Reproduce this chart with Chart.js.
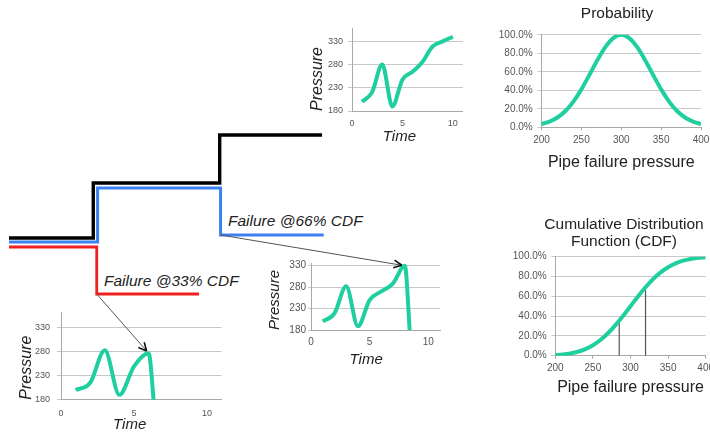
<!DOCTYPE html>
<html>
<head>
<meta charset="utf-8">
<script src="https://cdn.jsdelivr.net/npm/chart.js@4.4.0/dist/chart.umd.min.js"></script>
<style>
  html, body { margin: 0; padding: 0; background: #fff; }
  body { position: relative; width: 710px; height: 433px; overflow: hidden; font-family: "Liberation Sans", Arial, sans-serif; }
  canvas { position: absolute; }
  .note { position: absolute; font-style: italic; font-size: 15.5px; line-height: 16px; color: #222; white-space: nowrap; }
</style>
</head>
<body>
<canvas id="chart-top"></canvas>
<canvas id="chart-mid"></canvas>
<canvas id="chart-low"></canvas>
<canvas id="chart-pdf"></canvas>
<canvas id="chart-cdf"></canvas>
<div class="note" id="note-66" style="left:228px;top:213px"></div>
<div class="note" id="note-33" style="left:104px;top:273px"></div>
<canvas id="chart-steps"></canvas>
<script>
// pressure histories (time vs pressure)
const timeTicks     = [0, 5, 10];
const pressureTicks = [180, 230, 280, 330];

const topTime     = [1, 2, 3, 4, 5, 6, 7, 8, 9, 10];
const topPressure = [200, 221, 281, 190, 248, 265, 287, 320, 331, 341];

const midTime     = [1, 2, 3, 4, 5, 6, 7, 8, 8.45];
const midPressure = [200, 219, 282, 189, 250, 270, 289, 330, 165];

const lowTime     = [1, 2, 3, 4, 5, 6, 6.4];
const lowPressure = [200, 215, 282, 190, 249, 276, 160];

// failure pressure distribution
const pipePressure = [200, 210, 220, 230, 240, 250, 260, 270, 280, 290, 300,
                      310, 320, 330, 340, 350, 360, 370, 380, 390, 400];
const probability  = [3.6, 6.2, 10.6, 17.6, 27.8, 41, 56.6, 72.6, 86.7, 96.5, 100,
                      96.5, 86.7, 72.6, 56.6, 41, 27.8, 17.6, 10.6, 6.2, 3.6];
const cumulative   = [0.6, 1.2, 2.3, 4.0, 6.7, 10.6, 15.9, 22.7, 30.9, 40.1, 50,
                      59.9, 69.1, 77.3, 84.1, 89.4, 93.3, 96.0, 97.7, 98.8, 99.4];
const pipeTicks    = [200, 250, 300, 350, 400];
const percentTicks = [0, 20, 40, 60, 80, 100];

const failureCdf      = [33, 66];
const failurePressure = [285, 320];

// load steps (time, load level)
const blackTime = [0, 0.98, 0.98, 2.45, 2.45, 3.64];
const blackLoad = [13.2, 13.2, 18.7, 18.7, 23.5, 23.5];
const blueTime  = [0, 1.03, 1.03, 2.46, 2.46, 3.66];
const blueLoad  = [12.8, 12.8, 18.2, 18.2, 13.5, 13.5];
const redTime   = [0, 1.02, 1.02, 2.21];
const redLoad   = [12.3, 12.3, 7.6, 7.6];

const TEAL = '#1fcf9f';
const GRID = '#c8c8c8';
const AXIS = '#a8a8a8';
const TICK = '#555';
const INK  = '#222';
const FONT = '"Liberation Sans", Arial, sans-serif';

Chart.defaults.font.family = FONT;
Chart.defaults.animation = false;

const charts = {};

function place(id, left, top, width, height) {
  const c = document.getElementById(id);
  c.width = width; c.height = height;
  c.style.left = left + 'px'; c.style.top = top + 'px';
  return c;
}
function fixSize(size) {
  return s => { if (s.isHorizontal()) s.height = size; else s.width = size; };
}
function setTicks(values) {
  return s => { s.ticks = values.map(v => ({ value: v })); };
}
function points(xs, ys) {
  return xs.map((x, i) => ({ x, y: ys[i] }));
}

// "Time" caption sits under a given x value, not under the middle of the axis
const timeCaption = {
  id: 'timeCaption',
  afterDraw(chart, args, opts) {
    const ctx = chart.ctx;
    ctx.save();
    ctx.font = 'italic 15px ' + FONT;
    ctx.fillStyle = INK;
    ctx.textAlign = 'center';
    ctx.textBaseline = 'middle';
    ctx.fillText(opts.text, chart.scales.x.getPixelForValue(opts.at), chart.height - 9);
    ctx.restore();
  },
};

// move the title block so it is centred on a given x
const titleCentre = {
  id: 'titleCentre',
  afterLayout(chart, args, opts) {
    const t = chart.titleBlock;
    if (!t) return;
    const half = (t.right - t.left) / 2;
    t.left = opts.x - half;
    t.right = opts.x + half;
  },
};

function timeChart(id, box, times, pressures) {
  const canvas = place(id, box.left, box.top, box.width, box.height);
  charts[id] = new Chart(canvas, {
    type: 'line',
    data: { datasets: [{
      data: points(times, pressures), borderColor: TEAL, borderWidth: 4,
      pointRadius: 0, cubicInterpolationMode: 'monotone', fill: false,
    }] },
    options: {
      responsive: false,
      layout: { padding: { top: box.padTop, right: box.padRight, left: 0, bottom: 0 } },
      plugins: {
        legend: { display: false }, tooltip: { enabled: false },
        timeCaption: { text: 'Time', at: 4.7 },
      },
      scales: {
        x: {
          type: 'linear', min: 0, max: 11,
          afterBuildTicks: setTicks(timeTicks), afterFit: fixSize(box.xSize),
          grid: { display: false, drawTicks: false }, border: { color: AXIS },
          ticks: { color: TICK, font: { size: box.tickFont }, padding: box.xPad },
        },
        y: {
          min: 180, max: box.yMax,
          afterBuildTicks: setTicks(pressureTicks), afterFit: fixSize(box.ySize),
          grid: { color: GRID, tickLength: box.tickLen }, border: { color: AXIS },
          ticks: { color: TICK, font: { size: box.tickFont }, padding: box.yPad },
          title: { display: true, text: 'Pressure', align: 'start', color: INK,
                   font: { size: box.titleFont, style: 'italic' }, padding: { top: box.titlePad, bottom: 0 } },
        },
      },
    },
    plugins: [timeCaption],
  });
}

function pressureChart(id, box, title, datasets) {
  const canvas = place(id, box.left, box.top, box.width, box.height);
  charts[id] = new Chart(canvas, {
    type: 'line',
    data: { datasets },
    options: {
      responsive: false,
      layout: { padding: { top: 0, right: box.padRight, left: 0, bottom: 0 } },
      plugins: {
        legend: { display: false }, tooltip: { enabled: false },
        title: { display: true, text: title, color: INK, font: { size: 15.5, weight: 'normal', lineHeight: 1.08 },
                 padding: { top: box.titleTop, bottom: box.titleBottom } },
        titleCentre: { x: box.titleX },
      },
      scales: {
        x: {
          type: 'linear', min: 200, max: 400,
          afterBuildTicks: setTicks(pipeTicks), afterFit: fixSize(box.xSize),
          grid: { display: true, drawOnChartArea: false, drawTicks: true, tickLength: 3, color: AXIS },
          border: { color: AXIS },
          ticks: { color: TICK, font: { size: 10 }, padding: box.xPad },
          title: { display: true, text: 'Pipe failure pressure', color: INK, font: { size: 16 }, padding: { top: 0, bottom: 2.4 } },
        },
        y: {
          min: 0, max: 100,
          afterBuildTicks: setTicks(percentTicks), afterFit: fixSize(box.ySize),
          grid: { color: GRID, tickLength: 4 }, border: { color: AXIS },
          ticks: { color: TICK, font: { size: 10 }, padding: box.yPad, callback: v => v.toFixed(1) + '%' },
        },
      },
    },
    plugins: [titleCentre],
  });
}

timeChart('chart-top',
  { left: 296, top: 14, width: 169, height: 132, padTop: 14, padRight: 2, xSize: 35, ySize: 56,
    yMax: 360, tickFont: 9, tickLen: 4, xPad: 7, yPad: 5, titleFont: 16, titlePad: 12.4 },
  topTime, topPressure);

timeChart('chart-mid',
  { left: 262, top: 250, width: 180, height: 119, padTop: 13.6, padRight: 2, xSize: 39, ySize: 49,
    yMax: 335, tickFont: 10, tickLen: 3, xPad: 6, yPad: 2, titleFont: 15, titlePad: 4 },
  midTime, midPressure);

timeChart('chart-low',
  { left: 0, top: 300, width: 224, height: 134, padTop: 12.5, padRight: 2.4, xSize: 34.3, ySize: 61,
    yMax: 360, tickFont: 9, tickLen: 4, xPad: 8, yPad: 7, titleFont: 16, titlePad: 17 },
  lowTime, lowPressure);

pressureChart('chart-pdf',
  { left: 490, top: 0, width: 250, height: 175, padRight: 39, ySize: 51.5, xSize: 47.7,
    titleTop: 5.7, titleBottom: 12.4, titleX: 127, xPad: 3.7, yPad: 4.8 },
  'Probability',
  [{ data: points(pipePressure, probability), borderColor: TEAL, borderWidth: 4, pointRadius: 0,
     cubicInterpolationMode: 'monotone', fill: false }]);

pressureChart('chart-cdf',
  { left: 506, top: 205, width: 234, height: 195, padRight: 34.3, ySize: 49.3, xSize: 44.3,
    titleTop: 11.6, titleBottom: 6.6, titleX: 118, xPad: 3.3, yPad: 4.6 },
  ['Cumulative Distribution', 'Function (CDF)'],
  [{ data: points(pipePressure, cumulative), borderColor: TEAL, borderWidth: 4, pointRadius: 0,
     cubicInterpolationMode: 'monotone', fill: false },
   ...failurePressure.map((p, i) => ({
     data: [{ x: p, y: 0 }, { x: p, y: failureCdf[i] }],
     borderColor: '#555', borderWidth: 1.2, pointRadius: 0,
   }))]);

document.getElementById('note-33').textContent = `Failure @${failureCdf[0]}% CDF`;
document.getElementById('note-66').textContent = `Failure @${failureCdf[1]}% CDF`;

// arrows from a failure step to the peak of the matching pressure history
const failureArrows = {
  id: 'failureArrows',
  afterDatasetsDraw(chart, args, opts) {
    const ctx = chart.ctx;
    const own = chart.canvas;
    opts.links.forEach(link => {
      const from = chart.getDatasetMeta(link.dataset).data[link.index];
      const target = charts[link.chart];
      const peak = target.getDatasetMeta(0).data[link.point];
      const tx = peak.x + target.canvas.offsetLeft - own.offsetLeft;
      const ty = peak.y + target.canvas.offsetTop - own.offsetTop;
      const dx = tx - from.x, dy = ty - from.y;
      const len = Math.hypot(dx, dy);
      const ux = dx / len, uy = dy / len;
      const ex = tx - ux * 3, ey = ty - uy * 3;
      ctx.save();
      ctx.strokeStyle = '#555';
      ctx.lineWidth = 1;
      ctx.beginPath(); ctx.moveTo(from.x, from.y); ctx.lineTo(ex, ey); ctx.stroke();
      ctx.strokeStyle = '#111';
      ctx.lineWidth = 1.6;
      ctx.beginPath();
      [0.45, -0.45].forEach(a => {
        const hx = -ux * Math.cos(a) + uy * Math.sin(a);
        const hy = -uy * Math.cos(a) - ux * Math.sin(a);
        ctx.moveTo(ex, ey); ctx.lineTo(ex + hx * 9, ey + hy * 9);
      });
      ctx.stroke();
      ctx.restore();
    });
  },
};

const stepCanvas = place('chart-steps', 9, 120, 430, 250);
charts['chart-steps'] = new Chart(stepCanvas, {
  type: 'line',
  data: { datasets: [
    { data: points(blackTime, blackLoad), borderColor: '#000', borderWidth: 3.4 },
    { data: points(blueTime, blueLoad), borderColor: '#3b82f0', borderWidth: 3 },
    { data: points(redTime, redLoad), borderColor: '#f02020', borderWidth: 2.8 },
  ].map(d => ({ ...d, pointRadius: 0, tension: 0, clip: false, borderJoinStyle: 'miter', fill: false })) },
  options: {
    responsive: false,
    layout: { padding: 0 },
    plugins: {
      legend: { display: false }, tooltip: { enabled: false },
      failureArrows: { links: [
        { dataset: 1, index: 4, chart: 'chart-mid', point: 7 },
        { dataset: 2, index: 2, chart: 'chart-low', point: 5 },
      ] },
    },
    scales: {
      x: { type: 'linear', display: false, min: 0, max: 5 },
      y: { display: false, min: 0, max: 25 },
    },
  },
  plugins: [failureArrows],
});
</script>
</body>
</html>
